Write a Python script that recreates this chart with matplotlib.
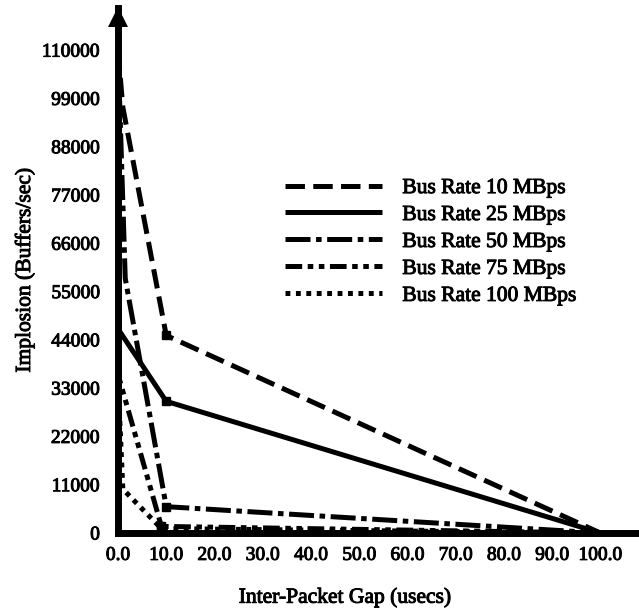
import matplotlib
matplotlib.use("Agg")
import matplotlib.pyplot as plt
import matplotlib.patheffects as pe

plt.rcParams['font.family'] = ['Liberation Serif', 'DejaVu Serif']
plt.rcParams['lines.scale_dashes'] = False

# Data (Inter-packet gap in usecs, implosion in buffers/sec)
x_10 = [0, 1, 10, 100]
y_10 = [110000, 97000, 45000, 0]
x_25 = [0, 0.3, 10, 100]
y_25 = [110000, 46000, 30000, 0]
x_50 = [0, 1.5, 10, 100]
y_50 = [110000, 58000, 6000, 0]
x_75 = [0, 0.3, 9, 100]
y_75 = [58000, 35000, 1500, 0]
x_100 = [0, 1, 9, 100]
y_100 = [35000, 10000, 1000, 0]

labels = ['Bus Rate 10 MBps', 'Bus Rate 25 MBps', 'Bus Rate 50 MBps',
          'Bus Rate 75 MBps', 'Bus Rate 100 MBps']
yticks = [0, 11000, 22000, 33000, 44000, 55000, 66000, 77000, 88000, 99000, 110000]
xticks = [0, 10, 20, 30, 40, 50, 60, 70, 80, 90, 100]

W, H = 639, 612
fig = plt.figure(figsize=(W / 100, H / 100), dpi=100)
x0, x1, y0, y1 = 118, 639, 533, 8
ax = fig.add_axes([x0 / W, 1 - y0 / H, (x1 - x0) / W, (y0 - y1) / H])

thick = [pe.withStroke(linewidth=0.7, foreground='black')]

lw = 3.6
styles = [
    dict(linestyle=(0, (14, 6))),
    dict(linestyle='-'),
    dict(linestyle=(0, (18, 4, 4, 4))),
    dict(linestyle=(0, (12, 4, 4, 4, 4, 4))),
    dict(linestyle=(0, (3.5, 4))),
]
series = [(x_10, y_10), (x_25, y_25), (x_50, y_50), (x_75, y_75), (x_100, y_100)]
for (xs, ys), st, lab in zip(series, styles, labels):
    ax.plot(xs, ys, color='black', lw=lw, label=lab, solid_capstyle='butt',
            dash_capstyle='butt', clip_on=False, **st)
    ax.plot(xs[2:3], ys[2:3], color='black', marker='s', markersize=6,
            linestyle='none', clip_on=False)

ax.set_xlim(0, 108)
ax.set_ylim(0, 119600)

for s in ['top', 'right']:
    ax.spines[s].set_visible(False)
for s in ['left', 'bottom']:
    ax.spines[s].set_linewidth(5)
    ax.spines[s].set_capstyle('projecting')

ax.plot([0], [1 - 9 / (y0 - y1)], marker='^', markersize=14, color='black',
        transform=ax.transAxes, clip_on=False, markeredgewidth=0)

ax.set_yticks(yticks)
ax.set_yticklabels([str(v) for v in yticks])
ax.set_xticks(xticks)
ax.set_xticklabels([f'{v:.1f}' for v in xticks])
ax.tick_params(axis='both', length=0, labelsize=14)
ax.tick_params(axis='y', pad=13)
ax.tick_params(axis='x', pad=10)
for t in ax.get_xticklabels() + ax.get_yticklabels():
    t.set_path_effects(thick)

ax.set_xlabel('Inter-Packet Gap (usecs)', fontsize=15.5, path_effects=thick)
ax.xaxis.set_label_coords((345 - x0) / (x1 - x0), (y0 - 588) / (y0 - y1))
ax.set_ylabel('Implosion (Buffers/sec)', fontsize=15.5, path_effects=thick)
ax.yaxis.set_label_coords((35 - x0) / (x1 - x0), (y0 - 270) / (y0 - y1))

leg = ax.legend(loc='upper left', bbox_to_anchor=(285 / W, 1 - 178 / H),
                bbox_transform=fig.transFigure, frameon=False, fontsize=15.5,
                handlelength=4.5, handletextpad=0.95, labelspacing=0.32,
                borderpad=0, borderaxespad=0)
for t in leg.get_texts():
    t.set_path_effects(thick)

fig.savefig('out.png', dpi=100)
